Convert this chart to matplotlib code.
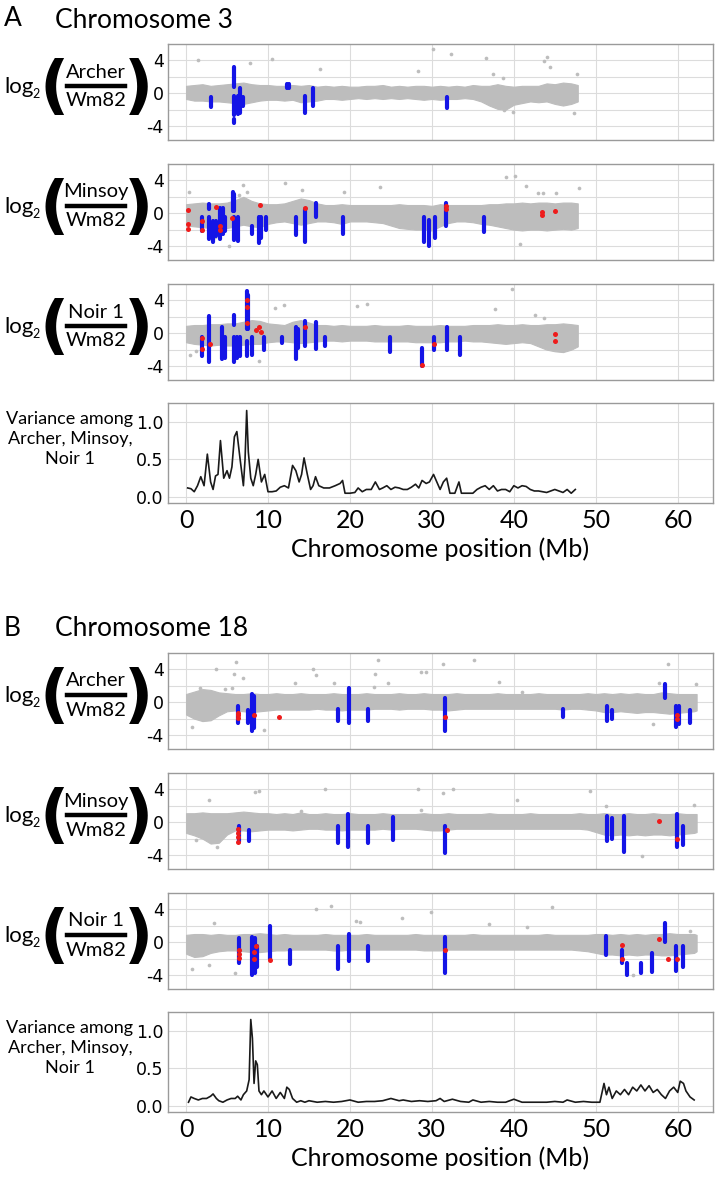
import matplotlib
matplotlib.use("Agg")
import matplotlib.pyplot as plt
from matplotlib.lines import Line2D

plt.rcParams["axes.unicode_minus"] = False
W, H = 717, 1180
GREY = "#bdbdbd"
BLUE = "#1414e6"
RED = "#ee1c1c"
TXT = "Lato"

# ---------------- chromosome 3 ----------------
pos3 = list(range(48)) + [47.8]
a1_up = [0.9, 1.0, 1.1, 0.9, 1.0, 1.1, 1.2, 1.3, 1.1, 1.0, 1.0, 0.9, 0.9, 1.0, 0.9, 1.0, 0.8, 0.9, 0.8, 0.9,
         0.8, 0.8, 0.9, 0.9, 1.0, 0.8, 0.9, 0.8, 0.9, 0.9, 0.8, 0.9, 0.8, 0.9, 0.8, 1.0, 0.9, 0.9, 1.1, 0.9,
         0.8, 0.9, 0.9, 0.9, 1.2, 1.1, 1.3, 1.2, 1.0]
a1_lo = [-0.7, -0.9, -0.9, -1.0, -1.0, -1.1, -1.2, -1.3, -1.1, -0.9, -0.8, -0.8, -0.9, -0.8, -1.1, -1.0, -0.9,
         -0.7, -0.7, -0.8, -0.7, -0.6, -0.7, -0.6, -0.7, -0.6, -0.7, -0.6, -0.7, -0.8, -0.7, -0.8, -0.7, -0.7,
         -0.6, -0.7, -1.0, -1.5, -1.9, -2.0, -1.4, -1.2, -1.0, -1.1, -1.0, -1.3, -1.5, -1.3, -1.0]
a1_gx = [1.4, 7.8, 10.5, 16.3, 28.3, 30.1, 32.3, 36.6, 37.4, 38.7, 43.7, 44.0, 44.4, 47.7, 47.3, 38.8, 39.9]
a1_gy = [4.1, 3.7, 4.2, 2.9, 2.7, 5.4, 4.8, 4.3, 2.4, 1.8, 3.9, 4.4, 3.2, 2.4, -2.4, -2.1, -2.3]
a1_bx = [3.0, 3.0, 5.9, 5.9, 5.9, 6.1, 6.3, 6.6, 7.0, 12.3, 12.6, 14.5, 14.5, 15.5, 31.8]
a1_blo = [0.5, -1.7, 0.7, -2.7, -3.6, 5.1, -2.5, -2.4, -1.5, 0.6, 0.6, -2.4, -3.0, -1.6, -1.8]
a1_bhi = [0.5, -0.4, 3.2, -0.3, -3.2, 5.1, -0.3, 0.6, -0.5, 1.1, 1.1, -0.3, -3.0, 0.6, -0.4]
a1_rx = []
a1_ry = []

a2_up = [1.1, 1.2, 1.3, 1.2, 1.2, 1.3, 1.6, 2.0, 1.5, 1.2, 1.1, 1.1, 1.2, 1.5, 1.8, 1.6, 1.2, 1.0, 1.0, 1.1,
         1.0, 1.0, 1.0, 1.0, 1.0, 1.0, 1.1, 1.0, 1.0, 1.0, 0.9, 1.1, 1.0, 1.0, 1.0, 1.0, 1.0, 1.1, 1.1, 1.2,
         1.2, 1.3, 1.2, 1.3, 1.3, 1.2, 1.3, 1.3, 1.2]
a2_lo = [-1.5, -1.6, -1.7, -1.8, -1.9, -1.8, -1.6, -1.4, -1.6, -1.7, -1.3, -1.1, -1.0, -1.2, -1.4, -1.2, -1.0,
         -1.0, -1.1, -1.3, -1.0, -1.0, -1.0, -1.1, -1.2, -1.5, -1.8, -1.9, -2.0, -2.0, -2.1, -1.6, -1.2, -1.0,
         -1.0, -1.1, -1.3, -1.4, -1.6, -1.8, -2.0, -2.1, -2.0, -2.0, -2.1, -2.0, -1.9, -2.0, -1.8]
a2_gx = [0.4, 7.0, 6.5, 7.5, 12.1, 14.1, 19.3, 23.7, 39.0, 40.1, 41.5, 43.0, 43.6, 45.1, 47.9, 3.5, 5.3, 40.7]
a2_gy = [2.6, 3.4, 2.2, 2.6, 3.7, 2.8, 2.6, 3.2, 4.4, 4.5, 3.3, 2.5, 2.5, 2.5, 3.1, -2.9, -4.0, -3.8]
a2_bx = [2.0, 2.8, 2.8, 3.3, 3.6, 4.1, 4.5, 4.8, 5.7, 5.9, 6.0, 6.0, 5.8, 6.4, 8.1, 8.8, 8.9, 9.2, 9.8,
         13.4, 13.5, 14.5, 15.9, 19.2, 29.0, 29.6, 30.4, 31.7, 36.3]
a2_blo = [-2.2, 0.5, -3.1, -3.5, -2.8, -3.2, -2.5, -2.2, 0.3, 0.3, 4.9, 3.5, -3.3, -3.4, -2.5, 2.0, -3.6, -3.0,
          -2.0, -2.7, -4.6, -3.5, -0.5, -2.5, -3.5, -4.0, -3.0, -1.5, -2.3]
a2_bhi = [-0.5, 1.1, -0.5, -1.0, -1.0, 0.6, 0.6, -0.5, 2.6, 2.4, 4.9, 3.5, -0.5, -0.5, -1.5, 2.0, -0.5, -0.5,
          -0.5, -0.5, -4.6, 0.5, 1.3, -0.5, -0.5, -0.8, -0.5, 1.3, -0.5]
a2_rx = [0.2, 0.2, 0.2, 2.0, 2.0, 3.7, 4.1, 4.1, 5.6, 9.0, 14.5, 31.7, 31.7, 43.4, 43.4, 45.0]
a2_ry = [0.45, -1.3, -1.9, -0.9, -2.1, 0.7, -1.6, -2.0, -0.6, 0.95, 0.6, 0.9, 0.5, 0.1, -0.2, 0.25]

a3_up = [0.9, 1.0, 1.0, 1.1, 1.1, 1.2, 1.2, 1.4, 1.6, 1.5, 1.2, 1.1, 1.0, 1.4, 1.6, 1.3, 1.0, 1.0, 0.9, 1.0,
         0.9, 0.9, 0.9, 1.0, 0.9, 0.9, 0.9, 1.0, 0.9, 0.9, 0.9, 1.0, 0.9, 0.9, 0.9, 1.0, 1.0, 1.0, 1.1, 1.0,
         1.0, 1.1, 1.0, 1.0, 1.1, 1.1, 1.2, 1.1, 1.0]
a3_lo = [-1.1, -1.3, -1.4, -1.5, -1.4, -1.5, -1.5, -1.4, -1.3, -1.3, -1.1, -1.0, -1.0, -1.1, -1.2, -1.1, -1.0,
         -0.9, -0.9, -1.0, -0.9, -0.9, -0.9, -1.0, -1.0, -1.0, -1.0, -1.0, -1.1, -1.1, -1.1, -1.1, -1.0, -1.0,
         -0.9, -1.0, -1.0, -1.1, -1.2, -1.3, -1.2, -1.1, -1.2, -1.6, -2.0, -2.2, -2.3, -2.0, -1.6]
a3_gx = [12.0, 20.9, 22.1, 37.7, 39.8, 42.6, 43.7, 8.9, 10.8, 0.5, 1.2]
a3_gy = [3.4, 3.3, 3.6, 3.0, 5.4, 2.2, 1.8, -3.4, 3.1, -2.6, -2.2]
a3_bx = [2.0, 2.8, 4.4, 4.7, 5.8, 5.8, 6.2, 6.6, 7.4, 7.6, 7.5, 8.0, 9.5, 11.7, 13.4, 13.7, 14.5, 15.9,
         16.9, 24.9, 24.9, 28.8, 30.2, 31.8, 33.4]
a3_blo = [-2.8, -3.5, -3.2, -3.0, 1.0, -3.5, -3.0, -2.8, 0.5, 0.5, -2.8, -2.6, -2.0, -1.2, -3.2, -1.8, -1.5,
          -1.9, -1.5, -2.3, -3.6, -4.0, -2.0, -2.0, -2.6]
a3_bhi = [-0.5, 2.1, 0.7, -0.5, 2.2, -0.5, -0.5, -0.5, 5.1, 4.6, -0.9, -0.5, -0.5, -0.5, 0.7, 0.5, 1.5, 1.4,
          -0.5, -0.5, -3.6, -1.8, -0.5, 0.7, -0.5]
a3_rx = [2.0, 2.0, 2.9, 7.5, 7.5, 7.5, 8.5, 8.9, 9.2, 14.5, 28.8, 30.3, 45.0, 45.0]
a3_ry = [-0.6, -1.9, -1.3, 4.0, 3.2, 1.3, 0.4, 0.8, 0.1, 0.8, -3.9, -1.3, -0.1, -0.9]

varA_x = [0.2, 0.6, 1.0, 1.4, 1.8, 2.2, 2.6, 3.0, 3.3, 3.6, 3.9, 4.2, 4.6, 5.0, 5.3, 5.6, 5.9, 6.2, 6.6, 7.0,
          7.2, 7.4, 7.6, 7.9, 8.2, 8.5, 8.8, 9.2, 9.6, 10.0, 10.5, 11.0, 11.5, 12.0, 12.5, 13.0, 13.4, 13.8,
          14.1, 14.4, 14.8, 15.2, 15.5, 15.8, 16.2, 16.8, 17.5, 18.2, 18.8, 19.1, 19.4, 20.0, 20.6, 21.0,
          21.5, 22.0, 22.6, 23.1, 23.6, 24.0, 24.5, 25.0, 25.5, 26.0, 26.5, 27.0, 27.5, 28.0, 28.4, 28.8,
          29.3, 29.7, 30.2, 30.6, 31.0, 31.4, 31.8, 32.2, 32.8, 33.3, 33.6, 34.2, 35.0, 35.5, 36.0, 36.5,
          37.0, 37.5, 38.0, 38.5, 39.0, 39.5, 40.0, 40.5, 41.0, 41.5, 42.0, 42.5, 43.0, 43.5, 44.0, 44.5,
          45.0, 45.5, 46.0, 46.5, 47.0, 47.5]
varA_y = [0.12, 0.11, 0.07, 0.15, 0.27, 0.15, 0.57, 0.2, 0.1, 0.28, 0.3, 0.75, 0.25, 0.35, 0.25, 0.4, 0.8,
          0.87, 0.5, 0.15, 0.5, 1.15, 0.6, 0.25, 0.15, 0.3, 0.5, 0.2, 0.3, 0.07, 0.07, 0.08, 0.13, 0.15,
          0.12, 0.42, 0.35, 0.2, 0.3, 0.52, 0.3, 0.1, 0.15, 0.27, 0.15, 0.12, 0.12, 0.15, 0.18, 0.22, 0.05,
          0.05, 0.06, 0.12, 0.07, 0.1, 0.1, 0.2, 0.1, 0.12, 0.15, 0.1, 0.13, 0.12, 0.1, 0.1, 0.13, 0.17,
          0.12, 0.22, 0.18, 0.2, 0.3, 0.2, 0.1, 0.2, 0.25, 0.05, 0.05, 0.2, 0.05, 0.05, 0.05, 0.1, 0.13,
          0.15, 0.1, 0.15, 0.08, 0.1, 0.1, 0.07, 0.15, 0.12, 0.15, 0.14, 0.1, 0.08, 0.08, 0.07, 0.06, 0.08,
          0.1, 0.08, 0.06, 0.1, 0.05, 0.1]

# ---------------- chromosome 18 ----------------
pos18 = list(range(63)) + [62.3]
b1_up = [1.0, 1.3, 1.6, 1.5, 1.2, 1.1, 1.0, 1.0, 1.1, 1.0, 1.0, 1.1, 1.0, 1.0, 1.1, 1.0, 1.0, 1.0, 1.1, 1.0,
         1.0, 1.0, 1.1, 1.0, 1.0, 1.0, 1.1, 1.0, 1.0, 1.1, 1.0, 1.0, 1.0, 1.1, 1.0, 1.0, 1.0, 1.0, 1.1, 1.0,
         1.0, 1.0, 1.0, 1.1, 1.0, 1.0, 1.0, 1.0, 1.0, 1.1, 1.0, 1.1, 1.0, 1.1, 1.0, 1.1, 1.0, 1.0, 1.2, 1.1,
         1.0, 1.0, 1.0, 1.0]
b1_lo = [-1.5, -2.0, -2.3, -2.2, -1.6, -1.1, -1.0, -1.1, -1.2, -1.1, -1.0, -0.9, -0.9, -0.9, -0.9, -0.9, -0.8,
         -0.9, -0.9, -1.0, -0.9, -0.9, -0.9, -0.8, -0.8, -0.8, -0.9, -0.8, -0.8, -0.8, -0.9, -0.9, -1.0, -0.9,
         -0.8, -0.8, -0.8, -0.8, -0.8, -0.8, -0.8, -0.8, -0.8, -0.8, -0.8, -0.8, -0.9, -0.8, -0.8, -0.9, -1.0,
         -1.2, -1.2, -1.1, -1.2, -1.3, -1.2, -1.2, -1.3, -1.4, -1.3, -1.2, -1.1, -1.0]
b1_gx = [6.1, 3.7, 5.8, 6.9, 1.7, 4.7, 5.6, 13.3, 15.5, 15.8, 18.0, 23.4, 23.1, 22.9, 24.7, 28.7, 29.3, 31.3,
         35.1, 38.2, 41.0, 57.7, 58.8, 62.2, 0.7, 9.5, 57.0]
b1_gy = [4.9, 4.0, 3.5, 3.0, 1.7, 1.6, 1.7, 2.4, 4.0, 3.3, 2.4, 5.2, 3.5, 1.9, 2.3, 3.7, 3.7, 4.6, 5.2, 2.5,
         1.2, 2.4, 4.6, 2.2, -3.0, -3.4, -2.6]
b1_bx = [6.4, 6.4, 7.6, 8.0, 8.3, 13.0, 18.6, 19.9, 22.2, 22.2, 31.6, 46.0, 51.4, 51.4, 52.0, 58.5, 59.8,
         60.1, 60.1, 61.5]
b1_blo = [-2.5, -3.8, -2.5, -3.5, -3.2, -2.0, -2.3, -2.5, -2.3, 1.9, -3.5, -1.8, -2.3, 1.2, -2.0, 0.5, -3.0,
          -2.7, -4.7, -2.5]
b1_bhi = [-0.5, -3.8, -1.0, 1.0, 0.8, -2.0, -0.8, 1.7, -0.8, 1.9, 0.5, -0.8, -0.5, 1.2, -1.0, 2.2, -0.5,
          -0.5, -4.7, -1.0]
b1_rx = [6.4, 6.4, 6.4, 8.3, 11.3, 31.6, 59.9, 59.9]
b1_ry = [-1.3, -1.6, -1.9, -1.6, -1.8, -1.8, -1.5, -2.0]

b2_up = [1.1, 1.1, 1.2, 1.1, 1.1, 1.1, 1.2, 1.3, 1.2, 1.1, 1.1, 1.0, 1.1, 1.0, 1.2, 1.0, 1.0, 1.1, 1.0, 1.0,
         1.1, 1.0, 1.0, 1.0, 1.1, 1.0, 1.0, 1.0, 1.0, 1.1, 1.0, 1.0, 1.1, 1.0, 1.0, 1.0, 1.0, 1.1, 1.0, 1.0,
         1.0, 1.0, 1.1, 1.0, 1.0, 1.0, 1.0, 1.0, 1.1, 1.0, 1.0, 1.1, 1.0, 1.0, 1.1, 1.0, 1.0, 1.1, 1.0, 1.0,
         1.1, 1.0, 1.0, 1.0]
b2_lo = [-1.3, -1.6, -2.0, -2.6, -2.5, -1.5, -1.0, -1.0, -1.1, -1.0, -0.9, -0.9, -0.9, -1.0, -0.9, -0.8, -0.8,
         -0.9, -0.9, -1.0, -0.9, -0.9, -0.9, -0.9, -0.8, -0.9, -0.8, -0.8, -0.8, -0.9, -1.0, -1.0, -0.9, -0.8,
         -0.8, -0.8, -0.8, -0.8, -0.8, -0.8, -0.8, -0.8, -0.8, -0.8, -0.8, -0.8, -0.8, -0.8, -0.8, -0.9, -1.2,
         -1.5, -1.6, -1.5, -1.6, -1.5, -1.6, -1.5, -1.5, -1.6, -1.5, -1.4, -1.3, -1.2]
b2_gx = [2.8, 8.4, 8.9, 14.0, 16.9, 28.3, 28.7, 31.3, 32.6, 40.4, 49.3, 51.2, 62.0, 55.6, 1.2, 3.8]
b2_gy = [2.7, 3.7, 3.8, 1.4, 4.1, 4.1, 1.5, 3.6, 4.0, 2.7, 3.8, 2.0, 2.1, -4.1, -2.2, -3.0]
b2_bx = [6.5, 6.5, 7.7, 18.6, 19.8, 22.2, 25.3, 31.6, 51.4, 52.0, 53.5, 59.9, 60.6]
b2_blo = [-2.4, -3.8, -2.3, -2.5, -3.0, -2.5, -2.2, -3.8, -2.3, -2.0, -3.6, -3.0, -2.8]
b2_bhi = [-0.5, -3.8, -1.0, -0.5, 1.0, -0.5, 0.6, -0.5, 0.8, 0.5, 0.8, 1.0, -0.5]
b2_rx = [6.4, 6.4, 6.4, 6.4, 31.9, 57.7, 59.9]
b2_ry = [-0.8, -1.3, -1.8, -2.4, -1.0, 0.1, -2.1]

b3_up = [0.9, 1.0, 1.0, 0.9, 1.0, 0.9, 0.9, 1.0, 1.0, 1.1, 1.0, 0.9, 1.0, 0.9, 0.9, 0.9, 0.9, 1.0, 0.9, 0.9,
         0.9, 0.9, 1.0, 0.9, 0.9, 0.9, 0.9, 0.9, 1.0, 0.9, 0.9, 0.9, 0.9, 0.9, 0.9, 1.0, 0.9, 0.9, 0.9, 0.9,
         0.9, 0.9, 0.9, 0.9, 1.0, 0.9, 0.9, 0.9, 0.9, 0.9, 1.0, 1.0, 0.9, 1.0, 0.9, 1.0, 0.9, 1.0, 1.0, 1.1,
         1.0, 1.0, 1.0, 0.9]
b3_lo = [-1.4, -1.8, -1.7, -1.3, -1.1, -1.0, -1.0, -1.1, -1.2, -1.2, -1.1, -1.0, -1.0, -0.9, -0.9, -0.9, -0.9,
         -0.9, -1.0, -1.0, -0.9, -0.9, -0.9, -0.9, -0.9, -0.9, -0.9, -0.9, -0.9, -1.0, -1.0, -1.0, -0.9, -0.9,
         -0.9, -0.9, -0.9, -0.9, -0.9, -0.9, -0.9, -0.9, -0.9, -0.9, -0.9, -0.9, -0.9, -0.9, -1.0, -1.1, -1.3,
         -1.5, -1.5, -1.6, -1.5, -1.6, -1.5, -1.5, -1.6, -1.6, -1.5, -1.4, -1.3, -1.1]
b3_gx = [3.4, 15.8, 17.7, 20.7, 21.2, 26.4, 29.9, 37.0, 41.6, 44.7, 61.5, 0.7, 2.8, 6.0, 54.5]
b3_gy = [2.4, 4.0, 4.4, 2.6, 2.5, 2.9, 3.7, 2.2, 1.8, 4.3, 1.4, -3.3, -2.8, -3.8, -4.0]
b3_bx = [6.5, 8.0, 8.4, 8.7, 8.5, 10.2, 12.7, 12.9, 18.6, 19.9, 22.2, 31.6, 51.2, 53.2, 53.8, 55.5, 56.9,
         58.4, 59.8, 60.6]
b3_blo = [-2.5, -4.0, -3.8, -3.0, -4.5, -2.0, -2.7, -3.8, -3.3, -2.3, -2.3, -3.8, -1.5, -2.5, -4.0, -3.8, -3.6,
          0.0, -3.5, -3.0]
b3_bhi = [0.5, 0.6, 0.5, -0.5, -4.5, 2.0, -1.0, -3.8, -0.5, 1.0, -0.5, 0.6, 0.7, -1.0, -2.5, -2.5, -1.3, 2.4,
          -0.5, -0.5]
b3_rx = [6.5, 6.5, 6.5, 8.3, 8.3, 8.5, 10.2, 31.6, 53.2, 53.2, 57.7, 58.8, 59.9]
b3_ry = [-1.0, -1.4, -1.9, -1.2, -2.0, -0.4, -2.2, -1.0, -0.3, -2.1, 0.4, -2.0, -2.0]

varB_x = [0.3, 0.6, 1.0, 1.5, 2.0, 2.5, 3.0, 3.3, 3.7, 4.0, 4.5, 5.0, 5.5, 6.0, 6.3, 6.7, 7.0, 7.4, 7.7, 7.9,
          8.1, 8.3, 8.5, 8.7, 8.9, 9.2, 9.5, 10.0, 10.5, 11.0, 11.5, 12.0, 12.3, 12.6, 13.0, 13.5, 14.0,
          14.5, 15.0, 16.0, 17.0, 18.0, 19.0, 20.0, 21.0, 22.0, 23.0, 24.0, 25.0, 26.0, 26.5, 27.5, 28.5,
          29.5, 30.5, 31.0, 31.5, 32.5, 33.5, 34.5, 35.0, 36.0, 37.0, 38.0, 39.0, 40.0, 41.0, 42.0, 43.0,
          44.0, 45.0, 46.0, 46.5, 47.5, 48.5, 49.5, 50.5, 51.0, 51.3, 51.6, 52.0, 52.5, 53.0, 53.5, 54.0,
          54.5, 55.0, 55.5, 56.0, 56.5, 57.0, 57.5, 58.0, 58.5, 59.0, 59.5, 60.0, 60.3, 60.7, 61.0, 61.5, 62.0]
varB_y = [0.05, 0.12, 0.1, 0.08, 0.1, 0.1, 0.13, 0.16, 0.1, 0.07, 0.05, 0.08, 0.1, 0.1, 0.13, 0.08, 0.15,
          0.2, 0.35, 1.15, 0.9, 0.3, 0.6, 0.55, 0.2, 0.15, 0.2, 0.12, 0.2, 0.1, 0.18, 0.1, 0.25, 0.22, 0.1,
          0.05, 0.07, 0.05, 0.07, 0.05, 0.06, 0.05, 0.06, 0.08, 0.05, 0.06, 0.06, 0.07, 0.1, 0.07, 0.08, 0.06,
          0.07, 0.06, 0.07, 0.1, 0.06, 0.09, 0.06, 0.05, 0.08, 0.05, 0.06, 0.05, 0.05, 0.09, 0.05, 0.05,
          0.05, 0.05, 0.06, 0.05, 0.08, 0.05, 0.06, 0.05, 0.05, 0.3, 0.15, 0.25, 0.1, 0.2, 0.15, 0.22, 0.15,
          0.25, 0.2, 0.28, 0.2, 0.27, 0.18, 0.22, 0.15, 0.1, 0.2, 0.25, 0.18, 0.33, 0.3, 0.2, 0.12, 0.08]

numerators = ["Archer", "Minsoy", "Noir 1"]
xticks = [0, 10, 20, 30, 40, 50, 60]


def fx(x):
    return x / W


def fy(y):
    return 1 - y / H


def make_ax(fig, top, height):
    ax = fig.add_axes([fx(168), fy(top + height), (713 - 168) / W, height / H])
    ax.set_xlim(-2.2, 64.3)
    ax.set_xticks(xticks)
    ax.grid(True, color="#dcdcdc", lw=0.8, zorder=0)
    ax.set_axisbelow(True)
    for s in ax.spines.values():
        s.set_color("#9a9a9a")
        s.set_linewidth(1.0)
    ax.tick_params(length=0, pad=3)
    return ax


def scatter_panel(ax, pos, up, lo, gx, gy, bx, blo, bhi, rx, ry):
    ax.fill_between(pos, lo, up, color=GREY, lw=0.8, edgecolor=GREY, zorder=2)
    ax.scatter(gx, gy, s=7, color=GREY, lw=0, zorder=2)
    ax.vlines(bx, blo, bhi, colors=BLUE, lw=3.0, capstyle="round", zorder=3)
    if rx:
        ax.scatter(rx, ry, s=13, color=RED, lw=0, zorder=4)
    ax.set_ylim(-5.7, 6.0)
    ax.set_yticks([-4, 0, 4])
    ax.set_yticks([-2, 2], minor=True)
    ax.grid(True, which="minor", axis="y", color="#dcdcdc", lw=0.8)
    ax.tick_params(which="minor", length=0)
    ax.set_xticklabels([])
    for t in ax.get_yticklabels():
        t.set_fontsize(12.5)


def ratio_label(fig, top, height, name):
    c = top + height / 2 - 6
    fig.text(fx(4), fy(c + 1), "log", fontsize=16, family=TXT, va="center", ha="left")
    fig.text(fx(32), fy(c + 8), "2", fontsize=9, family=TXT, va="center", ha="left")
    fig.text(fx(54), fy(c + 3), "(", fontsize=46, weight="bold", family="DejaVu Sans",
             va="center", ha="center")
    fig.text(fx(138), fy(c + 3), ")", fontsize=46, weight="bold", family="DejaVu Sans",
             va="center", ha="center")
    fig.text(fx(96), fy(c - 14), name, fontsize=14.5, family=TXT, va="center", ha="center")
    fig.text(fx(96), fy(c + 15), "Wm82", fontsize=14.5, family=TXT, va="center", ha="center")
    fig.add_artist(Line2D([fx(67), fx(125)], [fy(c), fy(c)], lw=3.2, color="black"))


def variance_panel(fig, top, vx, vy):
    ax = make_ax(fig, top, 100)
    ax.plot(vx, vy, color="#1a1a1a", lw=1.2, zorder=3)
    ax.set_ylim(-0.08, 1.25)
    ax.set_yticks([0.0, 0.5, 1.0])
    ax.set_yticklabels(["0.0", "0.5", "1.0"], fontsize=12.5)
    ax.set_xticklabels([str(t) for t in xticks], fontsize=18, family=TXT)
    ax.tick_params(axis="x", pad=4)
    ax.set_xlabel("Chromosome position (Mb)", fontsize=18, family=TXT, labelpad=4)
    fig.text(fx(70), fy(top + 36), "Variance among\nArcher, Minsoy,\nNoir 1", fontsize=13, family=TXT,
             ha="center", va="center", multialignment="center", linespacing=1.3)


fig = plt.figure(figsize=(W / 100, H / 100), dpi=100)

panels = [
    (0, "A", "Chromosome 3", pos3,
     [(a1_up, a1_lo, a1_gx, a1_gy, a1_bx, a1_blo, a1_bhi, a1_rx, a1_ry),
      (a2_up, a2_lo, a2_gx, a2_gy, a2_bx, a2_blo, a2_bhi, a2_rx, a2_ry),
      (a3_up, a3_lo, a3_gx, a3_gy, a3_bx, a3_blo, a3_bhi, a3_rx, a3_ry)],
     varA_x, varA_y),
    (609, "B", "Chromosome 18", pos18,
     [(b1_up, b1_lo, b1_gx, b1_gy, b1_bx, b1_blo, b1_bhi, b1_rx, b1_ry),
      (b2_up, b2_lo, b2_gx, b2_gy, b2_bx, b2_blo, b2_bhi, b2_rx, b2_ry),
      (b3_up, b3_lo, b3_gx, b3_gy, b3_bx, b3_blo, b3_bhi, b3_rx, b3_ry)],
     varB_x, varB_y),
]

for off, letter, title, pos, rows, vx, vy in panels:
    fig.text(fx(4), fy(off + 19), letter, fontsize=19, family=TXT, va="center", ha="left")
    fig.text(fx(55), fy(off + 20), title, fontsize=19, family=TXT, va="center", ha="left")
    for i, row in enumerate(rows):
        top = off + 44 + i * 120
        ax = make_ax(fig, top, 96)
        scatter_panel(ax, pos, *row)
        ratio_label(fig, top, 96, numerators[i])
    variance_panel(fig, off + 403, vx, vy)

fig.savefig("out.png", dpi=100)
